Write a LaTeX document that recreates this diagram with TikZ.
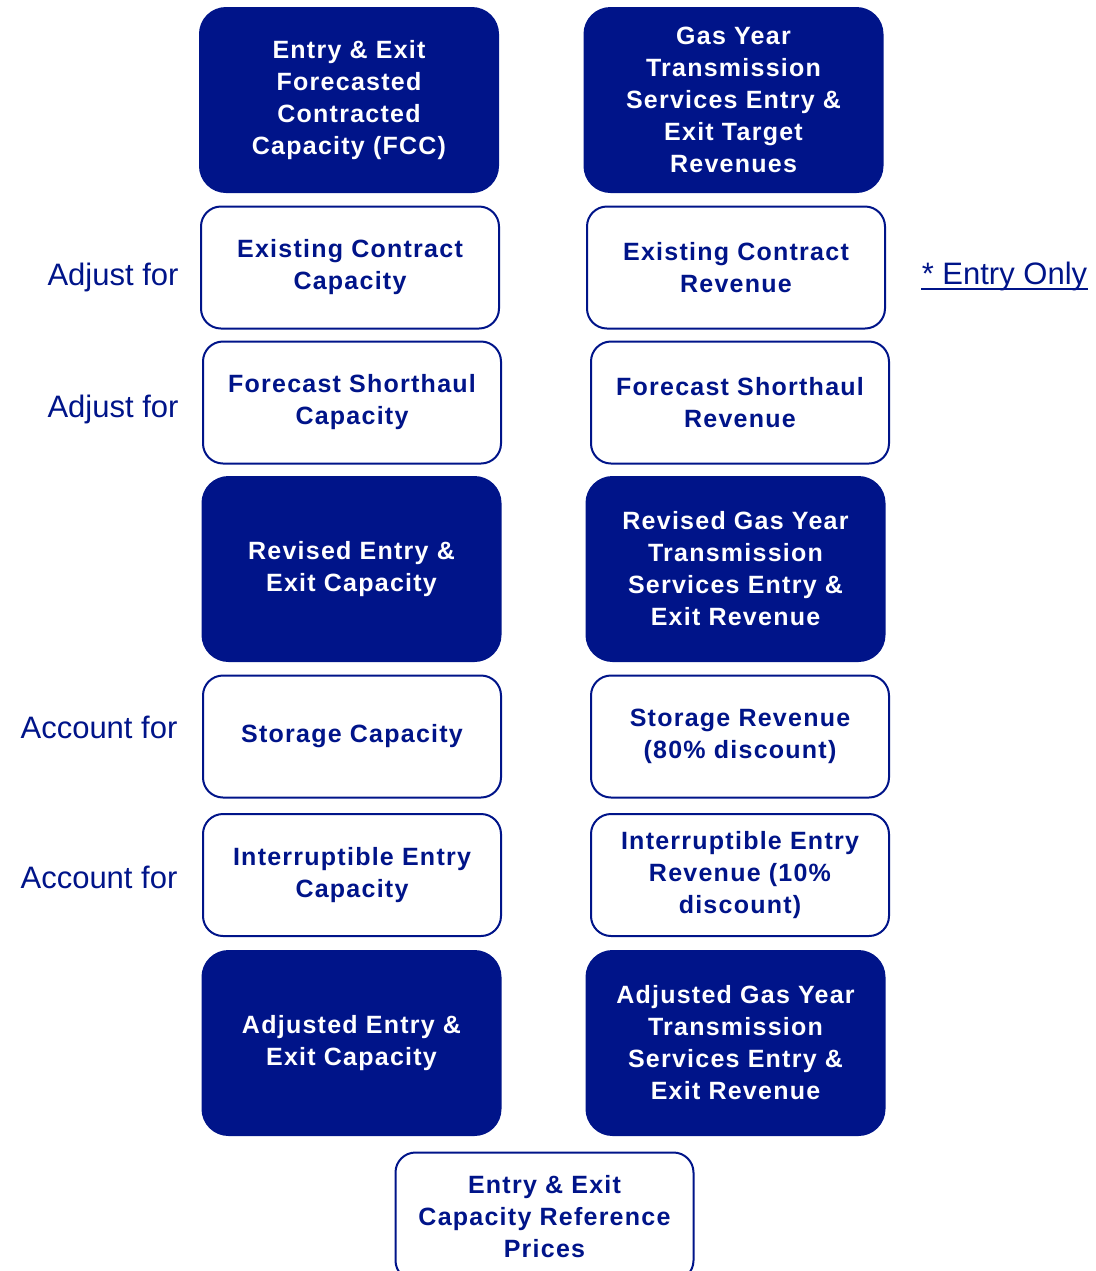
\documentclass[tikz,border=0pt]{standalone}
\usepackage{fontspec}
\setmainfont{Liberation Sans}
\newfontfamily\boxfont{Liberation Sans}[LetterSpace=5]
\usetikzlibrary{calc}
\definecolor{navy}{RGB}{0,20,137}

\begin{document}
\begin{tikzpicture}[x=0.5pt,y=-0.5pt,
    basebox/.style={draw=navy, line width=1pt, align=center, inner sep=2pt,
      minimum width=149pt, font=\boxfont\bfseries\fontsize{12.5}{16}\selectfont},
    solidbox/.style={basebox, fill=navy, text=white, rounded corners=13pt, minimum height=92pt},
    openbox/.style={basebox, fill=white, text=navy, rounded corners=10pt, minimum height=61pt},
    sidelabel/.style={text=navy, anchor=base, inner sep=0pt, font=\fontsize{15.5}{18}\selectfont}]
    \useasboundingbox (0,0) rectangle (1096,1271);

    % Capacity column
    \node[solidbox] (fcc) at (349,100) {Entry \& Exit\\Forecasted\\Contracted\\Capacity (FCC)};
    \node[openbox] (excap) at (350,267.5) {Existing Contract\\Capacity};
    \node[openbox] (shcap) at (352,402.5) {Forecast Shorthaul\\Capacity};
    \node[solidbox] (revcap) at (351.5,569) {Revised Entry \&\\Exit Capacity};
    \node[openbox] (stcap) at (352,736.5) {Storage Capacity};
    \node[openbox] (intcap) at (352,875) {Interruptible Entry\\Capacity};
    \node[solidbox] (adjcap) at (351.5,1043) {Adjusted Entry \&\\Exit Capacity};

    % Revenue column
    \node[solidbox] (target) at (733.5,100) {Gas Year\\Transmission\\Services Entry \&\\Exit Target\\Revenues};
    \node[openbox] (exrev) at (736,267.5) {Existing Contract\\Revenue};
    \node[openbox] (shrev) at (740,402.5) {Forecast Shorthaul\\Revenue};
    \node[solidbox] (revrev) at (735.5,569) {Revised Gas Year\\Transmission\\Services Entry \&\\Exit Revenue};
    \node[openbox] (strev) at (740,736.5) {Storage Revenue\\(80\% discount)};
    \node[openbox] (intrev) at (740,875) {Interruptible Entry\\Revenue (10\%\\discount)};
    \node[solidbox] (adjrev) at (735.5,1043) {Adjusted Gas Year\\Transmission\\Services Entry \&\\Exit Revenue};

    % Result
    \node[openbox, minimum height=64pt] (refprice) at (544.5,1216.5) {Entry \& Exit\\Capacity Reference\\Prices};

    % Side labels
    \node[sidelabel] (adjexist) at (113,285) {Adjust for};
    \node[sidelabel] (adjshort) at (113,417) {Adjust for};
    \node[sidelabel] (accstore) at (99,738) {Account for};
    \node[sidelabel] (accinter) at (99,888) {Account for};
    \node[sidelabel] (entryonly) at (1004.5,284) {* Entry Only};
    \draw[navy, line width=1pt] ($(entryonly.base west)+(0,5)$) -- ($(entryonly.base east)+(0,5)$);
\end{tikzpicture}
\end{document}
